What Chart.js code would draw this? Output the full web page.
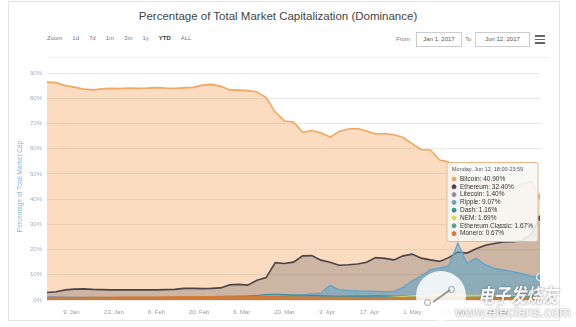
<!DOCTYPE html>
<html lang="en">
<head>
<meta charset="UTF-8">
<title>Percentage of Total Market Capitalization (Dominance)</title>
<script src="https://cdn.jsdelivr.net/npm/chart.js@4.4.0/dist/chart.umd.min.js"></script>
<style>
  body { margin: 0; background: #fff; font-family: "Liberation Sans", Arial, sans-serif; }
  #panel { position: absolute; left: 8px; top: 1px; width: 550px; height: 318px; border: 1px solid #e3e3e3; }
  #title { position: absolute; left: 0; top: 10px; width: 556px; text-align: center; font-size: 11.5px; color: #444; }
  #zoomRow { position: absolute; left: 47px; top: 35px; font-size: 6px; color: #777; white-space: nowrap; }
  #zoomRow span { display: inline-block; margin-right: 10px; }
  #zoomRow .sel { font-weight: bold; color: #333; }
  .lbl { position: absolute; top: 36px; font-size: 6px; color: #777; }
  .box { position: absolute; top: 32px; height: 13px; border: 1px solid #ccc; font-size: 6px; color: #555; line-height: 13px; text-align: center; }
  #menu { position: absolute; left: 535px; top: 35px; width: 10px; }
  #menu div { height: 1.5px; background: #666; margin-bottom: 2px; }
  #plotTop { position: absolute; left: 48px; top: 57px; width: 500px; height: 1px; background: #eee; }
  canvas { position: absolute; left: 0; top: 0; }
  #wm { position: absolute; left: 0; top: 0; width: 576px; height: 327px; pointer-events: none; }
  #logo { position: absolute; left: 416px; top: 271px; width: 50px; height: 50px; border-radius: 50%; background: rgba(255,255,255,0.85); }
  .ring { position: absolute; width: 5px; height: 5px; border: 1.5px solid #999; border-radius: 50%; }
  #link { position: absolute; left: 15px; top: 24px; width: 21px; height: 1.5px; background: #999; transform: rotate(-35deg); }
  #wmText { position: absolute; left: 478px; top: 279px; font-family: "Noto Sans CJK SC", sans-serif; font-size: 16px; font-weight: bold; font-style: italic; color: rgba(255,255,255,0.95); text-shadow: 0 0 2px rgba(90,90,90,0.8); transform: scaleY(1.25); transform-origin: left top; }
  #wmUrl { position: absolute; left: 455px; top: 304px; font-size: 14px; color: rgba(255,255,255,0.95); text-shadow: 0 0 2px rgba(90,90,90,0.8); }
</style>
</head>
<body>
<div id="panel"></div>
<div id="title">Percentage of Total Market Capitalization (Dominance)</div>
<div id="zoomRow"><span>Zoom</span><span>1d</span><span>7d</span><span>1m</span><span>3m</span><span>1y</span><span class="sel">YTD</span><span>ALL</span></div>
<div class="lbl" style="left:396px">From</div>
<div class="box" style="left:416px;width:44px">Jan 1, 2017</div>
<div class="lbl" style="left:465px">To</div>
<div class="box" style="left:475px;width:53px">Jun 12, 2017</div>
<div id="menu"><div></div><div></div><div></div></div>
<div id="plotTop"></div>
<canvas id="chart" width="576" height="327"></canvas>
<div id="wm">
  <div id="logo"><div class="ring" style="left:8px;top:28px"></div><div id="link"></div><div class="ring" style="left:32px;top:15px"></div></div>
  <div id="wmText">电子发烧友</div>
  <div id="wmUrl">www.elecfans.com</div>
</div>
<script>
// days since Jan 1, 2017
const days = [0, 3, 6, 9, 12, 15, 18, 21, 24, 27,
  30, 33, 36, 39, 42, 45, 48, 51, 54, 57,
  60, 63, 66, 69, 72, 75, 78, 81, 84, 87,
  90, 93, 96, 99, 102, 105, 108, 111, 114, 117,
  120, 123, 126, 129, 132, 135, 138, 141, 144, 147,
  150, 153, 156, 159, 162];

const bitcoin = [86.4, 86.2, 85.0, 84.4, 83.6, 83.3, 83.7, 83.9, 83.8, 84.0,
  83.9, 84.0, 84.2, 84.0, 83.9, 84.1, 84.3, 85.2, 85.5, 84.8,
  83.3, 83.2, 83.0, 82.5, 80.3, 74.5, 71.0, 70.6, 66.5, 67.2,
  66.3, 64.6, 66.8, 67.8, 68.0, 67.0, 65.8, 66.0, 65.5, 64.4,
  62.0, 59.6, 59.5, 55.5, 54.7, 49.5, 46.5, 45.0, 47.5, 46.2,
  44.8, 44.0, 46.0, 47.0, 40.9];

const ethereum = [3.0, 3.3, 4.0, 4.3, 4.4, 4.2, 4.1, 4.0, 4.0, 4.0,
  4.0, 4.0, 4.0, 4.1, 4.2, 4.6, 4.6, 4.5, 4.6, 4.8,
  6.0, 6.2, 5.9, 7.8, 8.9, 14.8, 14.5, 15.0, 17.5, 17.6,
  15.8, 15.0, 13.8, 14.0, 14.3, 15.0, 16.8, 16.5, 15.9, 17.5,
  18.2, 16.6, 15.9, 15.3, 16.8, 19.0, 18.6, 20.3, 21.7, 22.4,
  23.0, 23.1, 23.5, 26.0, 32.4];

const litecoin = [1.3, 1.3, 1.2, 1.2, 1.1, 1.1, 1.1, 1.0, 1.0, 1.0,
  1.0, 1.0, 1.0, 1.0, 1.0, 1.0, 1.0, 1.0, 1.0, 1.0,
  1.0, 1.0, 0.9, 0.9, 0.9, 0.9, 0.8, 0.8, 0.9, 1.0,
  1.2, 1.4, 1.5, 1.6, 1.5, 1.5, 1.6, 1.6, 1.5, 1.7,
  1.9, 1.8, 1.8, 1.7, 1.6, 1.8, 1.7, 1.6, 1.5, 1.5,
  1.5, 1.4, 1.4, 1.4, 1.40];

const ripple = [0.3, 0.3, 0.3, 0.3, 0.3, 0.3, 0.3, 0.3, 0.3, 0.3,
  0.3, 0.3, 0.3, 0.3, 0.3, 0.3, 0.3, 0.3, 0.3, 0.35,
  0.4, 0.5, 0.6, 0.8, 1.0, 1.2, 1.5, 1.8, 2.0, 2.4,
  2.7, 5.8, 4.0, 3.8, 3.6, 3.5, 3.4, 3.3, 3.4, 5.0,
  7.6, 9.5, 12.0, 12.6, 13.5, 22.5, 14.5, 16.5, 14.0, 12.5,
  11.9, 11.2, 10.5, 9.5, 9.07];

const dash = [0.6, 0.6, 0.6, 0.6, 0.6, 0.6, 0.6, 0.6, 0.6, 0.6,
  0.6, 0.7, 0.7, 0.7, 0.7, 0.7, 0.8, 0.8, 0.9, 1.1,
  1.3, 1.5, 1.6, 1.8, 2.2, 2.3, 2.2, 2.0, 1.9, 1.8,
  1.7, 1.6, 1.5, 1.5, 1.6, 1.6, 1.7, 1.6, 1.5, 1.4,
  1.3, 1.3, 1.2, 1.2, 1.1, 1.1, 1.1, 1.2, 1.2, 1.2,
  1.2, 1.2, 1.2, 1.2, 1.16];

const nem = [0.2, 0.2, 0.2, 0.2, 0.2, 0.2, 0.3, 0.3, 0.3, 0.3,
  0.3, 0.3, 0.3, 0.3, 0.3, 0.3, 0.4, 0.5, 0.6, 0.7,
  0.7, 0.6, 0.6, 0.6, 0.6, 0.6, 0.6, 0.6, 0.7, 0.7,
  0.7, 0.7, 0.7, 0.7, 0.7, 0.8, 0.9, 1.0, 1.2, 1.4,
  1.7, 1.8, 2.0, 2.1, 2.2, 2.0, 1.9, 1.9, 1.8, 1.8,
  1.8, 1.7, 1.7, 1.7, 1.69];

const ethClassic = [0.6, 0.6, 0.6, 0.6, 0.6, 0.6, 0.6, 0.6, 0.5, 0.5,
  0.5, 0.5, 0.5, 0.5, 0.5, 0.5, 0.5, 0.6, 0.6, 0.6,
  0.5, 0.5, 0.4, 0.4, 0.4, 0.4, 0.4, 0.4, 0.4, 0.4,
  0.4, 0.4, 0.4, 0.4, 0.5, 0.5, 0.6, 0.6, 0.6, 0.6,
  0.6, 0.7, 0.8, 0.9, 0.9, 0.9, 0.8, 0.9, 1.0, 1.1,
  1.2, 1.3, 1.4, 1.5, 1.67];

const monero = [1.0, 1.0, 1.0, 1.0, 1.0, 1.1, 1.1, 1.1, 1.2, 1.2,
  1.2, 1.2, 1.2, 1.3, 1.3, 1.3, 1.3, 1.4, 1.4, 1.5,
  1.6, 1.5, 1.5, 1.4, 1.4, 1.3, 1.3, 1.2, 1.2, 1.2,
  1.1, 1.1, 1.1, 1.1, 1.0, 1.0, 1.0, 1.0, 1.0, 0.9,
  0.9, 0.9, 0.8, 0.8, 0.8, 0.8, 0.7, 0.7, 0.7, 0.7,
  0.7, 0.7, 0.7, 0.7, 0.67];

const seriesNames = ['Bitcoin', 'Ethereum', 'Litecoin', 'Ripple', 'Dash', 'NEM', 'Ethereum Classic', 'Monero'];
const seriesValues = [bitcoin, ethereum, litecoin, ripple, dash, nem, ethClassic, monero];

const tickDays = [8, 22, 36, 50, 64, 78, 92, 106, 120, 134, 148];
const tickLabels = ['9. Jan', '23. Jan', '6. Feb', '20. Feb', '6. Mar', '20. Mar', '3. Apr', '17. Apr', '1. May', '15. May', '29. May'];
const yTicks = [0, 10, 20, 30, 40, 50, 60, 70, 80, 90];
const tooltipTitle = 'Monday, Jun 12, 18:00-23:59';

const lineColors = ['#f2a65e', '#4a4448', '#8e8e9c', '#5fa3cf', '#2f8ca3', '#e4d354', '#5a9e8a', '#d9772e'];
const fillColors = ['rgba(247,163,92,0.38)', 'rgba(67,67,72,0.26)', 'rgba(140,140,156,0.3)', 'rgba(90,165,205,0.55)',
  'rgba(43,138,160,0.4)', 'rgba(228,211,84,0.5)', 'rgba(90,158,138,0.5)', 'rgba(217,119,46,0.85)'];
const lineWidths = [1.6, 1.6, 1, 1.3, 1, 1, 1, 1];

const datasets = seriesNames.map((name, i) => ({
  label: name,
  data: days.map((d, j) => ({ x: d, y: seriesValues[i][j] })),
  borderColor: lineColors[i],
  backgroundColor: fillColors[i],
  borderWidth: lineWidths[i],
  fill: 'origin',
  pointRadius: 0,
  pointHoverRadius: 3.5,
  pointHoverBorderWidth: 1,
  pointHoverBorderColor: '#fff',
  pointHoverBackgroundColor: lineColors[i],
  tension: 0,
  // first series is painted first so the later ones sit on top of it
  order: seriesNames.length - i
}));

Chart.Tooltip.positioners.pinned = function () {
  return { x: this.chart.chartArea.right - 2, y: 202 };
};

const tickFont = { family: '"Liberation Sans", Arial, sans-serif', size: 6 };

const chart = new Chart(document.getElementById('chart'), {
  type: 'line',
  data: { datasets },
  options: {
    responsive: false,
    animation: false,
    events: [],
    layout: { padding: { left: 0, top: 73, right: 36, bottom: 0 } },
    plugins: {
      legend: { display: false },
      tooltip: {
        enabled: true,
        position: 'pinned',
        xAlign: 'right',
        yAlign: 'center',
        caretSize: 0,
        caretPadding: 0,
        backgroundColor: 'rgba(248,248,246,0.88)',
        borderColor: '#e9b98a',
        borderWidth: 1,
        cornerRadius: 2,
        padding: { left: 5, right: 5, top: 4, bottom: 4 },
        titleColor: '#555',
        titleFont: { family: tickFont.family, size: 5.5, weight: 'normal' },
        titleMarginBottom: 2,
        bodyColor: '#333',
        bodyFont: { family: tickFont.family, size: 6.5 },
        bodySpacing: 0,
        usePointStyle: true,
        boxWidth: 4,
        boxHeight: 4,
        boxPadding: 2,
        itemSort: (a, b) => a.datasetIndex - b.datasetIndex,
        callbacks: {
          title: () => tooltipTitle,
          label: (ctx) => ctx.dataset.label + ': ' + ctx.parsed.y.toFixed(2) + '%',
          labelPointStyle: () => ({ pointStyle: 'circle', rotation: 0 }),
          labelColor: (ctx) => ({ borderColor: lineColors[ctx.datasetIndex], backgroundColor: lineColors[ctx.datasetIndex] })
        }
      }
    },
    scales: {
      x: {
        type: 'linear',
        min: days[0],
        max: days[days.length - 1],
        grid: { display: false, drawTicks: false },
        border: { display: false },
        afterBuildTicks: (scale) => { scale.ticks = tickDays.map(v => ({ value: v })); },
        afterFit: (scale) => { scale.height = 27; },
        ticks: {
          autoSkip: false,
          maxRotation: 0,
          padding: 9,
          color: '#999',
          font: tickFont,
          callback: (v) => tickLabels[tickDays.indexOf(v)]
        }
      },
      y: {
        min: 0,
        max: 90,
        afterBuildTicks: (scale) => { scale.ticks = yTicks.map(v => ({ value: v })); },
        afterFit: (scale) => { scale.width = 47; },
        grid: { color: '#e8e8e8', lineWidth: 1, drawTicks: false },
        border: { display: false },
        ticks: { padding: 5, color: '#9fb0c4', font: tickFont, callback: (v) => v + '%' },
        title: {
          display: true,
          text: 'Percentage of Total Market Cap',
          color: '#86b3dc',
          font: { family: tickFont.family, size: 6.5 },
          padding: { top: 16, bottom: 0 }
        }
      }
    }
  }
});

// show the shared tooltip on the last day
const last = days.length - 1;
const active = seriesNames.map((_, i) => ({ datasetIndex: i, index: last }));
chart.setActiveElements(active);
chart.tooltip.setActiveElements(active, { x: chart.chartArea.right, y: 202 });
chart.update('none');
</script>
</body>
</html>
